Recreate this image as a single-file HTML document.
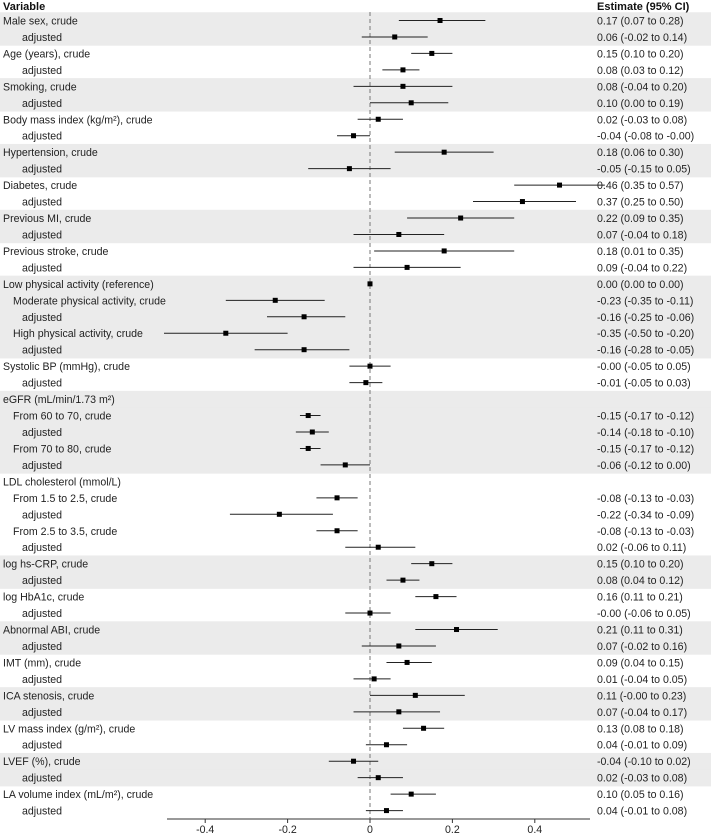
<!DOCTYPE html>
<html><head><meta charset="utf-8">
<style>
body{margin:0;background:#fff;}
svg{display:block;font-family:"Liberation Sans",Arial,sans-serif;}
</style></head>
<body>
<svg id="chart" width="711" height="835" xmlns="http://www.w3.org/2000/svg"></svg>
<script>
const labels=["Male sex, crude","adjusted","Age (years), crude","adjusted","Smoking, crude","adjusted","Body mass index (kg/m²),  crude","adjusted","Hypertension, crude","adjusted","Diabetes, crude","adjusted","Previous MI, crude","adjusted","Previous stroke, crude","adjusted","Low physical activity (reference)","Moderate physical activity, crude","adjusted","High physical activity, crude","adjusted","Systolic BP (mmHg), crude","adjusted","eGFR (mL/min/1.73 m²)","From 60 to 70, crude","adjusted","From 70 to 80, crude","adjusted","LDL cholesterol (mmol/L)","From 1.5 to 2.5, crude","adjusted","From 2.5 to 3.5, crude","adjusted","log hs-CRP, crude","adjusted","log HbA1c, crude","adjusted","Abnormal ABI, crude","adjusted","IMT (mm), crude","adjusted","ICA stenosis, crude","adjusted","LV mass index (g/m²),  crude","adjusted","LVEF (%), crude","adjusted","LA volume index (mL/m²),  crude","adjusted"];
const indent=[0,2,0,2,0,2,0,2,0,2,0,2,0,2,0,2,0,1,2,1,2,0,2,0,1,2,1,2,0,1,2,1,2,0,2,0,2,0,2,0,2,0,2,0,2,0,2,0,2];
const group=[0,0,1,1,2,2,3,3,4,4,5,5,6,6,7,7,8,8,8,8,8,9,9,10,10,10,10,10,11,11,11,11,11,12,12,13,13,14,14,15,15,16,16,17,17,18,18,19,19];
const est=[0.17,0.06,0.15,0.08,0.08,0.10,0.02,-0.04,0.18,-0.05,0.46,0.37,0.22,0.07,0.18,0.09,0.00,-0.23,-0.16,-0.35,-0.16,-0.00,-0.01,null,-0.15,-0.14,-0.15,-0.06,null,-0.08,-0.22,-0.08,0.02,0.15,0.08,0.16,-0.00,0.21,0.07,0.09,0.01,0.11,0.07,0.13,0.04,-0.04,0.02,0.10,0.04];
const lo=[0.07,-0.02,0.10,0.03,-0.04,0.00,-0.03,-0.08,0.06,-0.15,0.35,0.25,0.09,-0.04,0.01,-0.04,0.00,-0.35,-0.25,-0.50,-0.28,-0.05,-0.05,null,-0.17,-0.18,-0.17,-0.12,null,-0.13,-0.34,-0.13,-0.06,0.10,0.04,0.11,-0.06,0.11,-0.02,0.04,-0.04,-0.00,-0.04,0.08,-0.01,-0.10,-0.03,0.05,-0.01];
const hi=[0.28,0.14,0.20,0.12,0.20,0.19,0.08,-0.00,0.30,0.05,0.57,0.50,0.35,0.18,0.35,0.22,0.00,-0.11,-0.06,-0.20,-0.05,0.05,0.03,null,-0.12,-0.10,-0.12,0.00,null,-0.03,-0.09,-0.03,0.11,0.20,0.12,0.21,0.05,0.31,0.16,0.15,0.05,0.23,0.17,0.18,0.09,0.02,0.08,0.16,0.08];
const estText=["0.17 (0.07 to 0.28)","0.06 (-0.02 to 0.14)","0.15 (0.10 to 0.20)","0.08 (0.03 to 0.12)","0.08 (-0.04 to 0.20)","0.10 (0.00 to 0.19)","0.02 (-0.03 to 0.08)","-0.04 (-0.08 to -0.00)","0.18 (0.06 to 0.30)","-0.05 (-0.15 to 0.05)","0.46 (0.35 to 0.57)","0.37 (0.25 to 0.50)","0.22 (0.09 to 0.35)","0.07 (-0.04 to 0.18)","0.18 (0.01 to 0.35)","0.09 (-0.04 to 0.22)","0.00 (0.00 to 0.00)","-0.23 (-0.35 to -0.11)","-0.16 (-0.25 to -0.06)","-0.35 (-0.50 to -0.20)","-0.16 (-0.28 to -0.05)","-0.00 (-0.05 to 0.05)","-0.01 (-0.05 to 0.03)","","-0.15 (-0.17 to -0.12)","-0.14 (-0.18 to -0.10)","-0.15 (-0.17 to -0.12)","-0.06 (-0.12 to 0.00)","","-0.08 (-0.13 to -0.03)","-0.22 (-0.34 to -0.09)","-0.08 (-0.13 to -0.03)","0.02 (-0.06 to 0.11)","0.15 (0.10 to 0.20)","0.08 (0.04 to 0.12)","0.16 (0.11 to 0.21)","-0.00 (-0.06 to 0.05)","0.21 (0.11 to 0.31)","0.07 (-0.02 to 0.16)","0.09 (0.04 to 0.15)","0.01 (-0.04 to 0.05)","0.11 (-0.00 to 0.23)","0.07 (-0.04 to 0.17)","0.13 (0.08 to 0.18)","0.04 (-0.01 to 0.09)","-0.04 (-0.10 to 0.02)","0.02 (-0.03 to 0.08)","0.10 (0.05 to 0.16)","0.04 (-0.01 to 0.08)"];
const ticks=[-0.4,-0.2,0,0.2,0.4];
const tickLabels=["-0.4","-0.2","0","0.2","0.4"];

const svg=document.getElementById('chart');
const NS='http://www.w3.org/2000/svg';
const x0=370, unit=412, rowH=16.46, y0=20.5;
const xs=v=>x0+v*unit;
const ys=i=>y0+i*rowH;
function mk(tag,attrs,parent){const e=document.createElementNS(NS,tag);for(const k in attrs)e.setAttribute(k,attrs[k]);(parent||svg).appendChild(e);return e;}

for(let i=0;i<labels.length;i++){
  if(group[i]%2===0){
    const r=mk('rect',{x:0,y:ys(i)-rowH/2,width:711,height:rowH+0.5,fill:'#ebebeb'});
    
    
  }
}
let t=mk('text',{x:3,y:10,'font-size':11,'font-weight':'bold',fill:'#111'});t.textContent='Variable';


t=mk('text',{x:597,y:10,'font-size':11,'font-weight':'bold',fill:'#111'});t.textContent='Estimate (95% CI)';



const zl=mk('line',{x1:xs(0),x2:xs(0),y1:12,y2:819,stroke:'#777','stroke-dasharray':'4,3','stroke-width':1});



const indX=[3,13,22];
for(let i=0;i<labels.length;i++){
  const y=ys(i);
  const lt=mk('text',{x:indX[indent[i]],y:y+4,'font-size':10.6,fill:'#222'});lt.textContent=labels[i];
  
  
  if(est[i]!==null){
    const ln=mk('line',{x1:xs(lo[i]),x2:xs(hi[i]),y1:y,y2:y,stroke:'#222','stroke-width':1});
    
    
    const pt=mk('rect',{x:xs(est[i])-2.5,y:y-2.5,width:5,height:5,fill:'#000'});
    
    
    const et=mk('text',{x:597,y:y+4,'font-size':10.6,fill:'#222'});et.textContent=estText[i];
    
    
  }
}
const ax=mk('line',{x1:167,x2:590,y1:819,y2:819,stroke:'#333','stroke-width':1});


ticks.forEach((v,k)=>{
  const tk=mk('line',{x1:xs(v),x2:xs(v),y1:819,y2:823,stroke:'#333'});
  
  
  const tl=mk('text',{x:xs(v),y:833,'font-size':10.6,'text-anchor':'middle',fill:'#222'});tl.textContent=tickLabels[k];
  
  
});
</script>
</body></html>
